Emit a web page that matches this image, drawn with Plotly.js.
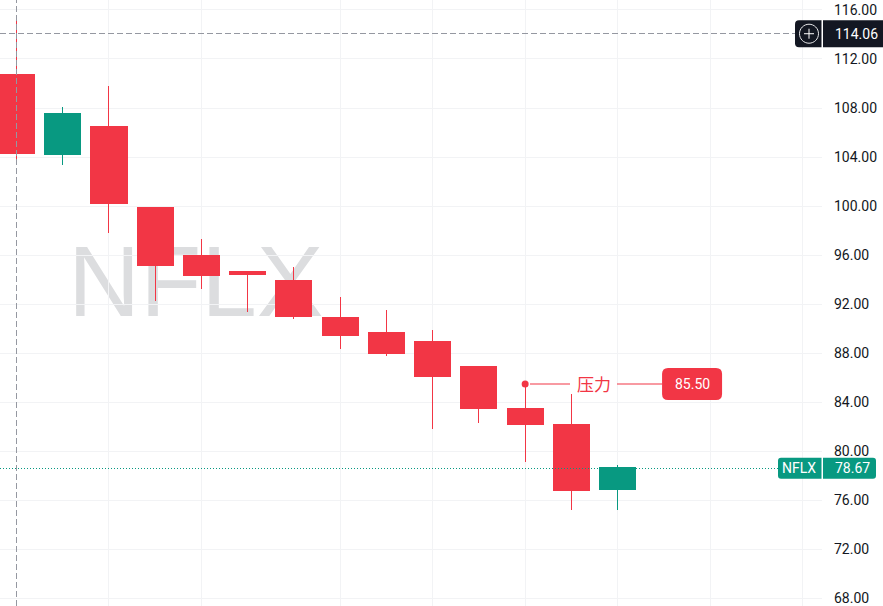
<!DOCTYPE html>
<html>
<head>
<meta charset="utf-8">
<script src="https://cdn.plot.ly/plotly-3.0.1.min.js"></script>
<style>html,body{margin:0;padding:0;background:#fff;overflow:hidden}#c{width:883px;height:606px}
.boxlayer path,.scatterlayer .js-line{shape-rendering:crispEdges !important}</style>
</head>
<body>
<div id="c"></div>
<script>
// ---- data ----
var bars   = [0,1,2,3,4,5,6,7,8,9,10,11,12,13];
var opens  = [110.74,104.20,106.50,99.89,95.98,94.67,93.94,90.92,89.70,88.96,86.92,83.50,82.19,76.90];
var highs  = [115.30,108.05,109.76,99.89,97.28,94.67,95.00,92.63,91.57,89.86,86.92,85.50,84.64,78.90];
var lows   = [103.80,103.32,97.77,92.30,93.28,91.33,90.76,88.31,87.74,81.86,82.35,79.17,75.18,75.20];
var closes = [104.27,107.56,100.20,95.14,94.33,94.40,90.98,89.43,87.96,86.10,83.49,82.17,76.79,78.67];
var priceTicks = [68,72,76,80,84,88,92,96,100,104,108,112,116];
var timeTicks  = [2,4,7,9,11,13,15,17];
var crossX = 0, crossPrice = 114.06, crossLabel = "114.06";
var lastPrice = 78.63, lastLabel = "78.67", symbol = "NFLX";
var resistancePrice = 85.50, resistanceLabel = "85.50", resistanceName = "压力";
var resistanceBar = 11;
var resistanceLineX = [11.11,11.97,null,12.99,13.96];
var resistanceNameX = 12.48, resistanceTagX = 14.61;
var watermarkX = 3.877, watermarkPrice = 94.62;

var RED="#f23645", GREEN="#089981", DARK="#131722", GRID="#f2f3f5", XH="#9598a1";
var xRange=[-0.357,17.42], yRange=[67.39,116.81];

function rr(x0,x1,h,rl,rr_){ // rounded box path, pixels relative to anchor
  var t=h/2,b=-h/2;
  return "M"+(x0+rl)+","+t+" L"+(x1-rr_)+","+t+" Q"+x1+","+t+" "+x1+","+(t-rr_)+
         " L"+x1+","+(b+rr_)+" Q"+x1+","+b+" "+(x1-rr_)+","+b+
         " L"+(x0+rl)+","+b+" Q"+x0+","+b+" "+x0+","+(b+rl)+
         " L"+x0+","+(t-rl)+" Q"+x0+","+t+" "+(x0+rl)+","+t+" Z";
}
function pxShape(xref,xa,ya,path,fill,line,lw){
  return {type:"path",xref:xref,yref:"y",xsizemode:"pixel",ysizemode:"pixel",xanchor:xa,yanchor:ya,
          path:path,fillcolor:fill,line:{color:line||"rgba(0,0,0,0)",width:lw||0},layer:"above"};
}
function ring(cx,r){ // circle as four cubic arcs
  var k=r*0.5523;
  return "M"+(cx-r)+",0 C"+(cx-r)+","+k+" "+(cx-k)+","+r+" "+cx+","+r+
         " C"+(cx+k)+","+r+" "+(cx+r)+","+k+" "+(cx+r)+",0"+
         " C"+(cx+r)+","+(-k)+" "+(cx+k)+","+(-r)+" "+cx+","+(-r)+
         " C"+(cx-k)+","+(-r)+" "+(cx-r)+","+(-k)+" "+(cx-r)+",0 Z";
}

var traces=[
 {type:"candlestick",x:bars,open:opens,high:highs,low:lows,close:closes,
  increasing:{line:{color:GREEN,width:1},fillcolor:GREEN},
  decreasing:{line:{color:RED,width:1},fillcolor:RED},
  whiskerwidth:0,hoverinfo:"skip",showlegend:false},
 {type:"scatter",mode:"lines",x:[crossX,crossX],y:yRange,line:{color:XH,width:1,dash:"6px,3px"},hoverinfo:"skip",showlegend:false},
 {type:"scatter",mode:"lines",x:[xRange[0],16.85],y:[crossPrice,crossPrice],line:{color:XH,width:1,dash:"6px,3px"},hoverinfo:"skip",showlegend:false},
 {type:"scatter",mode:"lines",x:[xRange[0],16.5],y:[lastPrice,lastPrice],line:{color:GREEN,width:1,dash:"1px,2px"},hoverinfo:"skip",showlegend:false},
 {type:"scatter",mode:"lines",x:resistanceLineX,y:resistanceLineX.map(function(v){return v===null?null:resistancePrice;}),
  line:{color:"rgba(242,54,69,0.5)",width:2},connectgaps:false,hoverinfo:"skip",showlegend:false},
 {type:"scatter",mode:"markers",x:[resistanceBar],y:[resistancePrice],marker:{color:RED,size:7},hoverinfo:"skip",showlegend:false}
];

function tag(x,y,shift,text,color,family,size){
  return {xref:x===1?"paper":"x",yref:"y",x:x,y:y,xshift:shift,xanchor:"center",yanchor:"middle",text:text,showarrow:false,
          font:{family:family||"Roboto, sans-serif",size:size||14,color:color||"#fff"}};
}

var layout={
 width:883,height:606,
 margin:{l:0,r:61,t:0,b:0,pad:0},
 paper_bgcolor:"#fff",plot_bgcolor:"#fff",
 showlegend:false,hovermode:false,boxgap:0.22,boxgroupgap:0,
 xaxis:{type:"linear",range:xRange,tickmode:"array",tickvals:timeTicks,showticklabels:false,ticks:"",
        showgrid:true,gridcolor:GRID,gridwidth:1,zeroline:false,showline:false,rangeslider:{visible:false},fixedrange:true},
 yaxis:{side:"right",range:yRange,tickmode:"array",tickvals:priceTicks,
        ticktext:priceTicks.map(function(v){return v.toFixed(2);}),
        ticks:"",ticklabelstandoff:11,ticklabeloverflow:"allow",showgrid:true,gridcolor:GRID,gridwidth:1,zeroline:false,showline:false,
        tickfont:{family:"Roboto, sans-serif",size:14,color:"#131722"},fixedrange:true},
 shapes:[
  {type:"rect",xref:"x",yref:"y",x0:watermarkX-0.01,x1:watermarkX+0.01,y0:watermarkPrice,y1:watermarkPrice,layer:"below",
   line:{width:0},label:{text:symbol,textposition:"middle center",font:{family:"Liberation Sans, sans-serif",size:100,color:"#dcdddf"}}},
  pxShape("paper",1,crossPrice,rr(-27,-0.5,27,4,0),DARK),
  pxShape("paper",1,crossPrice,rr(1,61,27,0,0),DARK),
  pxShape("paper",1,crossPrice,ring(-13,9.5),"rgba(0,0,0,0)","#e8e8ea",1),
  pxShape("paper",1,crossPrice,"M-18,0 L-8,0 M-13,-5 L-13,5","rgba(0,0,0,0)","#fff",1),
  pxShape("paper",1,lastPrice,rr(-44,-0.5,21,3,0),GREEN),
  pxShape("paper",1,lastPrice,rr(1,54,21,0,3),GREEN),
  pxShape("x",resistanceTagX,resistancePrice,rr(-30,30,32,6,6),RED)
 ],
 annotations:[
  tag(1,crossPrice,34,crossLabel),
  tag(1,lastPrice,30,lastLabel),
  tag(1,lastPrice,-23,symbol),
  tag(resistanceTagX,resistancePrice,0,resistanceLabel),
  tag(resistanceNameX,resistancePrice,0,resistanceName,RED,"Noto Sans CJK SC, sans-serif",17)
 ]
};

Plotly.newPlot("c",traces,layout,{displayModeBar:false,staticPlot:true});
</script>
</body>
</html>
